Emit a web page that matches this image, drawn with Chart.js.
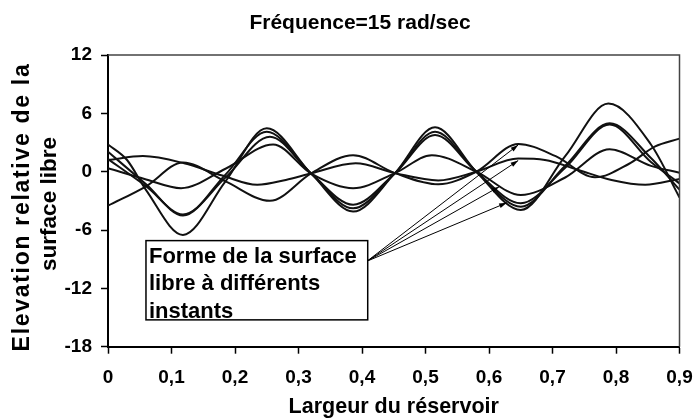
<!DOCTYPE html>
<html>
<head>
<meta charset="utf-8">
<script src="https://cdn.jsdelivr.net/npm/chart.js@4.4.1/dist/chart.umd.min.js"></script>
<style>
  html, body { margin: 0; padding: 0; background: #fff; }
  #wrap { width: 694px; height: 419px; }
</style>
</head>
<body>
<div id="wrap"><canvas id="myChart"></canvas></div>
<script>
// Forme de la surface libre, 6 instants (x = largeur, y = elevation)
const xA = [0, 0.03, 0.06, 0.118, 0.185, 0.25, 0.32, 0.386, 0.452, 0.515, 0.58, 0.65, 0.72, 0.788, 0.855, 0.9];
const yA = [2.8, 1.2, -1.9, -6.5, -1.0, 4.46, -0.2, -4.1, -0.15, 4.56, 0.0, -3.94, 1.6, 7.0, 2.8, -2.65];

const xB = [0, 0.06, 0.118, 0.185, 0.25, 0.32, 0.386, 0.452, 0.515, 0.58, 0.65, 0.72, 0.79, 0.855, 0.9];
const yB = [2.05, -1.3, -4.5, -0.3, 4.1, -0.2, -3.77, -0.15, 4.1, 0.0, -3.6, 0.6, 4.97, 1.4, -1.85];

const xC = [0, 0.06, 0.118, 0.185, 0.255, 0.32, 0.386, 0.452, 0.515, 0.58, 0.65, 0.72, 0.79, 0.855, 0.9];
const yC = [1.3, -1.5, -4.4, -0.6, 3.6, -0.2, -3.4, -0.15, 3.77, 0.0, -3.25, 0.4, 4.85, 1.0, -1.2];

const xD = [0, 0.06, 0.115, 0.185, 0.26, 0.32, 0.386, 0.452, 0.51, 0.58, 0.65, 0.72, 0.79, 0.855, 0.9];
const yD = [0.35, -0.8, -1.7, 0.3, 2.8, -0.2, -1.7, -0.15, 1.7, 0.0, -2.4, -0.6, 2.3, 0.6, -0.1];

const xE = [0, 0.06, 0.118, 0.185, 0.255, 0.32, 0.386, 0.452, 0.52, 0.58, 0.646, 0.705, 0.767, 0.82, 0.861, 0.9];
const yE = [-3.5, -1.5, 0.95, -1.0, -3.0, -0.17, 1.7, -0.15, -1.3, 0.0, 2.85, 1.6, -0.58, 0.79, 2.57, 3.4];

const xF = [0, 0.055, 0.12, 0.18, 0.235, 0.28, 0.32, 0.39, 0.452, 0.52, 0.58, 0.646, 0.688, 0.741, 0.793, 0.846, 0.9];
const yF = [1.2, 1.6, 0.86, -0.4, -1.35, -0.85, -0.17, 0.86, -0.15, -0.9, 0.0, 1.35, 1.2, 0.17, -0.85, -1.35, -0.75];

const xTicks = [0, 0.1, 0.2, 0.3, 0.4, 0.5, 0.6, 0.7, 0.8, 0.9];
const yTicks = [-18, -12, -6, 0, 6, 12];

const titleText = 'Fréquence=15 rad/sec';
const xTitle = 'Largeur du réservoir';
const yTitle = ['Elevation relative de la', 'surface libre'];
const noteLines = ['Forme de la surface', 'libre à différents', 'instants'];
// arrow origin and tips, in chart units
const noteFrom = [0.408, -9.2];
const noteTips = [[0.646, 2.75], [0.646, 1.15], [0.616, -1.55], [0.628, -3.2]];

const FONT = "'Liberation Sans', Arial, sans-serif";

function pts(xs, ys) {
    return xs.map((x, i) => ({ x: x, y: ys[i] }));
}

const curves = [[xA, yA], [xB, yB], [xC, yC], [xD, yD], [xE, yE], [xF, yF]];

const decor = {
    id: 'decor',
    afterDraw(chart) {
        const ctx = chart.ctx;
        const a = chart.chartArea;
        const sx = chart.scales.x, sy = chart.scales.y;
        ctx.save();

        // frame top / right
        ctx.strokeStyle = '#444';
        ctx.lineWidth = 1.5;
        ctx.beginPath();
        ctx.moveTo(a.left, a.top);
        ctx.lineTo(a.right, a.top);
        ctx.lineTo(a.right, a.bottom);
        ctx.stroke();

        ctx.fillStyle = '#000';
        ctx.textAlign = 'center';
        ctx.textBaseline = 'alphabetic';
        ctx.font = 'bold 21px ' + FONT;
        ctx.fillText(titleText, 360, 29);
        ctx.font = 'bold 21.5px ' + FONT;
        ctx.fillText(xTitle, (a.left + a.right) / 2, 413);

        ctx.save();
        ctx.rotate(-Math.PI / 2);
        ctx.textBaseline = 'middle';
        ctx.font = 'bold 23px ' + FONT;
        ctx.letterSpacing = '1.7px';
        ctx.fillText(yTitle[0], -207, 23);
        ctx.letterSpacing = '0px';
        ctx.font = 'bold 22.5px ' + FONT;
        ctx.fillText(yTitle[1], -204, 50);
        ctx.restore();

        // note arrows
        const fx = sx.getPixelForValue(noteFrom[0]);
        const fy = sy.getPixelForValue(noteFrom[1]);
        ctx.strokeStyle = '#000';
        ctx.lineWidth = 1;
        noteTips.forEach(t => {
            const tx = sx.getPixelForValue(t[0]);
            const ty = sy.getPixelForValue(t[1]);
            ctx.beginPath();
            ctx.moveTo(fx, fy);
            ctx.lineTo(tx, ty);
            ctx.stroke();
            const ang = Math.atan2(ty - fy, tx - fx);
            ctx.beginPath();
            ctx.moveTo(tx, ty);
            ctx.lineTo(tx - 8 * Math.cos(ang - 0.3), ty - 8 * Math.sin(ang - 0.3));
            ctx.lineTo(tx - 8 * Math.cos(ang + 0.3), ty - 8 * Math.sin(ang + 0.3));
            ctx.closePath();
            ctx.fill();
        });

        // note box
        const bx = sx.getPixelForValue(0.0598), bx2 = sx.getPixelForValue(0.409);
        const by = sy.getPixelForValue(-7.09), by2 = sy.getPixelForValue(-15.24);
        ctx.fillStyle = '#fff';
        ctx.fillRect(bx, by, bx2 - bx, by2 - by);
        ctx.lineWidth = 1.5;
        ctx.strokeRect(bx, by, bx2 - bx, by2 - by);
        ctx.fillStyle = '#000';
        ctx.textAlign = 'left';
        ctx.font = 'bold 22px ' + FONT;
        noteLines.forEach((s, i) => ctx.fillText(s, bx + 3, by + 22 + i * 27.5));

        ctx.restore();
    }
};

const idChar = document.getElementById('myChart').getContext('2d');
const chart = new Chart(idChar, {
    type: 'scatter',
    data: {
        datasets: curves.map(c => ({
            data: pts(c[0], c[1]),
            showLine: true,
            borderColor: '#111',
            borderWidth: 2,
            pointRadius: 0,
            cubicInterpolationMode: 'monotone',
            fill: false
        }))
    },
    options: {
        responsive: true,
        maintainAspectRatio: false,
        animation: false,
        layout: { padding: { top: 55, right: 14.5, left: 0, bottom: 0 } },
        plugins: { legend: { display: false }, tooltip: { enabled: false } },
        scales: {
            x: {
                type: 'linear', min: 0, max: 0.9,
                afterFit: s => { s.height = 72.3; s.paddingLeft = 0; s.paddingRight = 0; },
                afterBuildTicks: s => { s.ticks = xTicks.map(v => ({ value: v })); },
                ticks: {
                    padding: 13, color: '#000',
                    font: { family: FONT, weight: 'bold', size: 19 },
                    callback: v => v === 0 ? '0' : v.toFixed(1).replace('.', ',')
                },
                grid: { drawOnChartArea: false, drawTicks: true, tickLength: 7, color: '#000', tickWidth: 1.5 },
                border: { display: true, color: '#000', width: 2 }
            },
            y: {
                min: -18, max: 12,
                afterFit: s => { s.width = 108; s.paddingTop = 0; s.paddingBottom = 0; },
                afterBuildTicks: s => { s.ticks = yTicks.map(v => ({ value: v })); },
                ticks: {
                    padding: 9, color: '#000',
                    font: { family: FONT, weight: 'bold', size: 19 }
                },
                grid: { drawOnChartArea: false, drawTicks: true, tickLength: 7, color: '#000', tickWidth: 1.5 },
                border: { display: true, color: '#000', width: 2 }
            }
        }
    },
    plugins: [decor]
});
</script>
</body>
</html>
